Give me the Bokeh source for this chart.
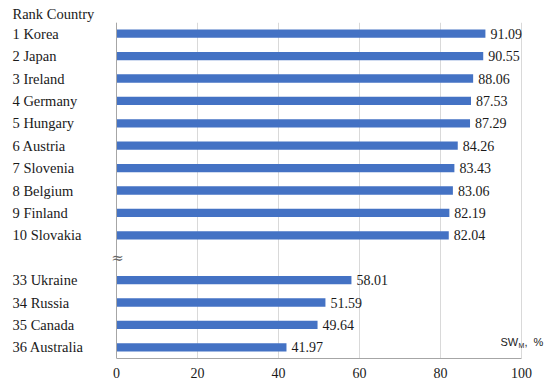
from bokeh.plotting import figure
from bokeh.models import ColumnDataSource, LabelSet, Label, FactorRange, Range1d, FixedTicker, Span
from bokeh.embed import file_html
from bokeh.resources import INLINE

ranks = [1, 2, 3, 4, 5, 6, 7, 8, 9, 10, 33, 34, 35, 36]
countries = ["Korea", "Japan", "Ireland", "Germany", "Hungary", "Austria", "Slovenia",
             "Belgium", "Finland", "Slovakia", "Ukraine", "Russia", "Canada", "Australia"]
values = [91.09, 90.55, 88.06, 87.53, 87.29, 84.26, 83.43, 83.06, 82.19, 82.04,
          58.01, 51.59, 49.64, 41.97]
x_ticks = [0, 20, 40, 60, 80, 100]
n_top = 10
gap_factor = " "

labels = [f"{r} {c}" for r, c in zip(ranks, countries)]
factors = labels[:n_top] + [gap_factor] + labels[n_top:]
y_factors = factors[::-1]

src = ColumnDataSource(dict(
    label=labels,
    value=values,
    vtext=[f"{v:.2f}" for v in values],
))

SERIF = "Liberation Serif"
FS = "14px"
TXT = "#1a1a1a"
PX = 4.05  # pixels per percent on the x axis

p = figure(width=550, height=389,
           y_range=FactorRange(factors=y_factors, range_padding=0, factor_padding=0),
           x_range=Range1d(-108 / PX, 100 + 25 / PX),
           output_backend="svg", toolbar_location=None,
           min_border_left=8, min_border_right=4,
           min_border_top=22, min_border_bottom=31)
p.outline_line_color = None
p.background_fill_color = "white"
p.border_fill_color = "white"

p.title.text = "Rank Country"
p.title.align = "left"
p.title.offset = 4
p.title.text_font = SERIF
p.title.text_font_size = "14.5px"
p.title.text_font_style = "normal"
p.title.text_color = TXT
p.title.standoff = 2

p.hbar(y="label", right="value", left=0, height=0.37, source=src,
       fill_color="#4472C4", line_color=None)

# x axis
p.xaxis.ticker = FixedTicker(ticks=x_ticks)
p.xaxis.bounds = (0, 100)
p.xaxis.axis_line_color = "#a6a6a6"
p.xaxis.major_tick_line_color = None
p.xaxis.minor_tick_line_color = None
p.xaxis.major_tick_out = 0
p.xaxis.major_tick_in = 0
p.xaxis.major_label_standoff = 9
p.xaxis.major_label_text_font = SERIF
p.xaxis.major_label_text_font_size = FS
p.xaxis.major_label_text_color = TXT

p.yaxis.visible = False

p.xgrid.ticker = FixedTicker(ticks=x_ticks)
p.xgrid.grid_line_color = "#d9d9d9"
p.ygrid.grid_line_color = None

# left axis line at 0
p.add_layout(Span(location=0, dimension="height", line_color="#a6a6a6", line_width=1))

# category labels
p.add_layout(LabelSet(x=0, y="label", text="label", source=src, x_offset=-104,
                      text_align="left", text_baseline="middle",
                      text_font=SERIF, text_font_size="14.5px", text_color=TXT))
# value labels
p.add_layout(LabelSet(x="value", y="label", text="vtext", source=src, x_offset=5,
                      text_align="left", text_baseline="middle",
                      text_font=SERIF, text_font_size=FS, text_color=TXT))

p.add_layout(Label(x=0, y=len(labels) - n_top + 0.5, x_offset=1, text="≈",
                   text_align="center", text_baseline="middle",
                   text_font="DejaVu Serif", text_font_size="15px", text_color="#666666"))

SANS = "Liberation Sans"
p.add_layout(Label(x=100, y=0, x_offset=-21, y_offset=17, text="SW",
                   text_align="left", text_baseline="middle",
                   text_font=SANS, text_font_size="11px", text_color=TXT))
p.add_layout(Label(x=100, y=0, x_offset=-3, y_offset=13, text="M",
                   text_align="left", text_baseline="middle",
                   text_font=SANS, text_font_size="7px", text_color=TXT))
p.add_layout(Label(x=100, y=0, x_offset=3, y_offset=17, text=",",
                   text_align="left", text_baseline="middle",
                   text_font=SANS, text_font_size="11px", text_color=TXT))
p.add_layout(Label(x=100, y=0, x_offset=12, y_offset=17, text="%",
                   text_align="left", text_baseline="middle",
                   text_font=SANS, text_font_size="11px", text_color=TXT))

open("out.html", "w").write(file_html(p, INLINE))
